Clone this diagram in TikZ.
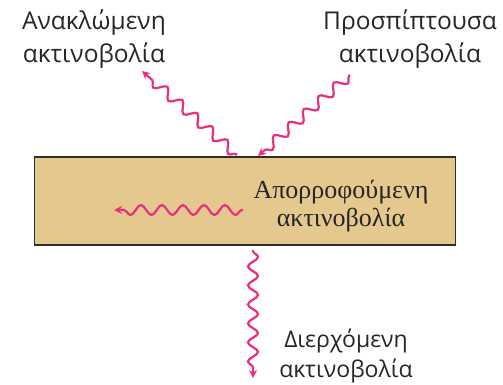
\documentclass[tikz,border=0pt]{standalone}
\usepackage{fontspec}
\setmainfont{Liberation Serif}
\newfontfamily\labelfont{Open Sans}
\usetikzlibrary{decorations.pathmorphing,arrows.meta}
\definecolor{wave}{RGB}{232,48,128}
\definecolor{slab}{RGB}{229,200,142}
\definecolor{edge}{RGB}{50,45,40}
\tikzset{
  lbl/.style={font=\labelfont\fontsize{24.5}{33}\selectfont, text=black!85, inner sep=0pt, anchor=base},
  lbls/.style={font=\labelfont\fontsize{23}{30}\selectfont, text=black!85, inner sep=0pt, anchor=base},
  serif/.style={font=\fontsize{26}{28}\selectfont, text=black!85, inner sep=0pt, anchor=base},
  ray/.style={draw=wave, line width=2.2pt, -{Stealth[length=8pt,width=8pt]},
    decorate, decoration={snake, amplitude=5pt, segment length=20pt, pre length=1pt, post length=7pt}}
}
\begin{document}
\begin{tikzpicture}[x=1pt,y=-1pt]
\useasboundingbox (0,0) rectangle (503,385);
\node[draw=edge, line width=1.6pt, fill=slab, minimum width=421pt, minimum height=88pt, inner sep=0pt] (slab) at (245,201) {};
\node[lbl] (refl) at (94,30) {Ανακλώμενη};
\node[lbl] (refl2) at (94,63) {ακτινοβολία};
\node[lbl] (inc) at (410,30) {Προσπίπτουσα};
\node[lbl] (inc2) at (410,63) {ακτινοβολία};
\node[serif] (abs) at (341,198) {Απορροφούμενη};
\node[serif] (abs2) at (341,226) {ακτινοβολία};
\node[lbls] (trans) at (346,347) {Διερχόμενη};
\node[lbls] (trans2) at (346,377) {ακτινοβολία};
\coordinate (r0) at (237,155);
\coordinate (r1) at (142,71);
\coordinate (i0) at (350,75);
\coordinate (i1) at (258,156);
\coordinate (a0) at (243,210);
\coordinate (a1) at (114,210);
\coordinate (t0) at (253,250);
\coordinate (t1) at (253,378);
\draw[ray] (r0) -- (r1);
\draw[ray] (i0) -- (i1);
\draw[ray, decoration={segment length=21pt}] (a0) -- (a1);
\draw[ray, decoration={segment length=19pt}] (t0) -- (t1);
\end{tikzpicture}
\end{document}
